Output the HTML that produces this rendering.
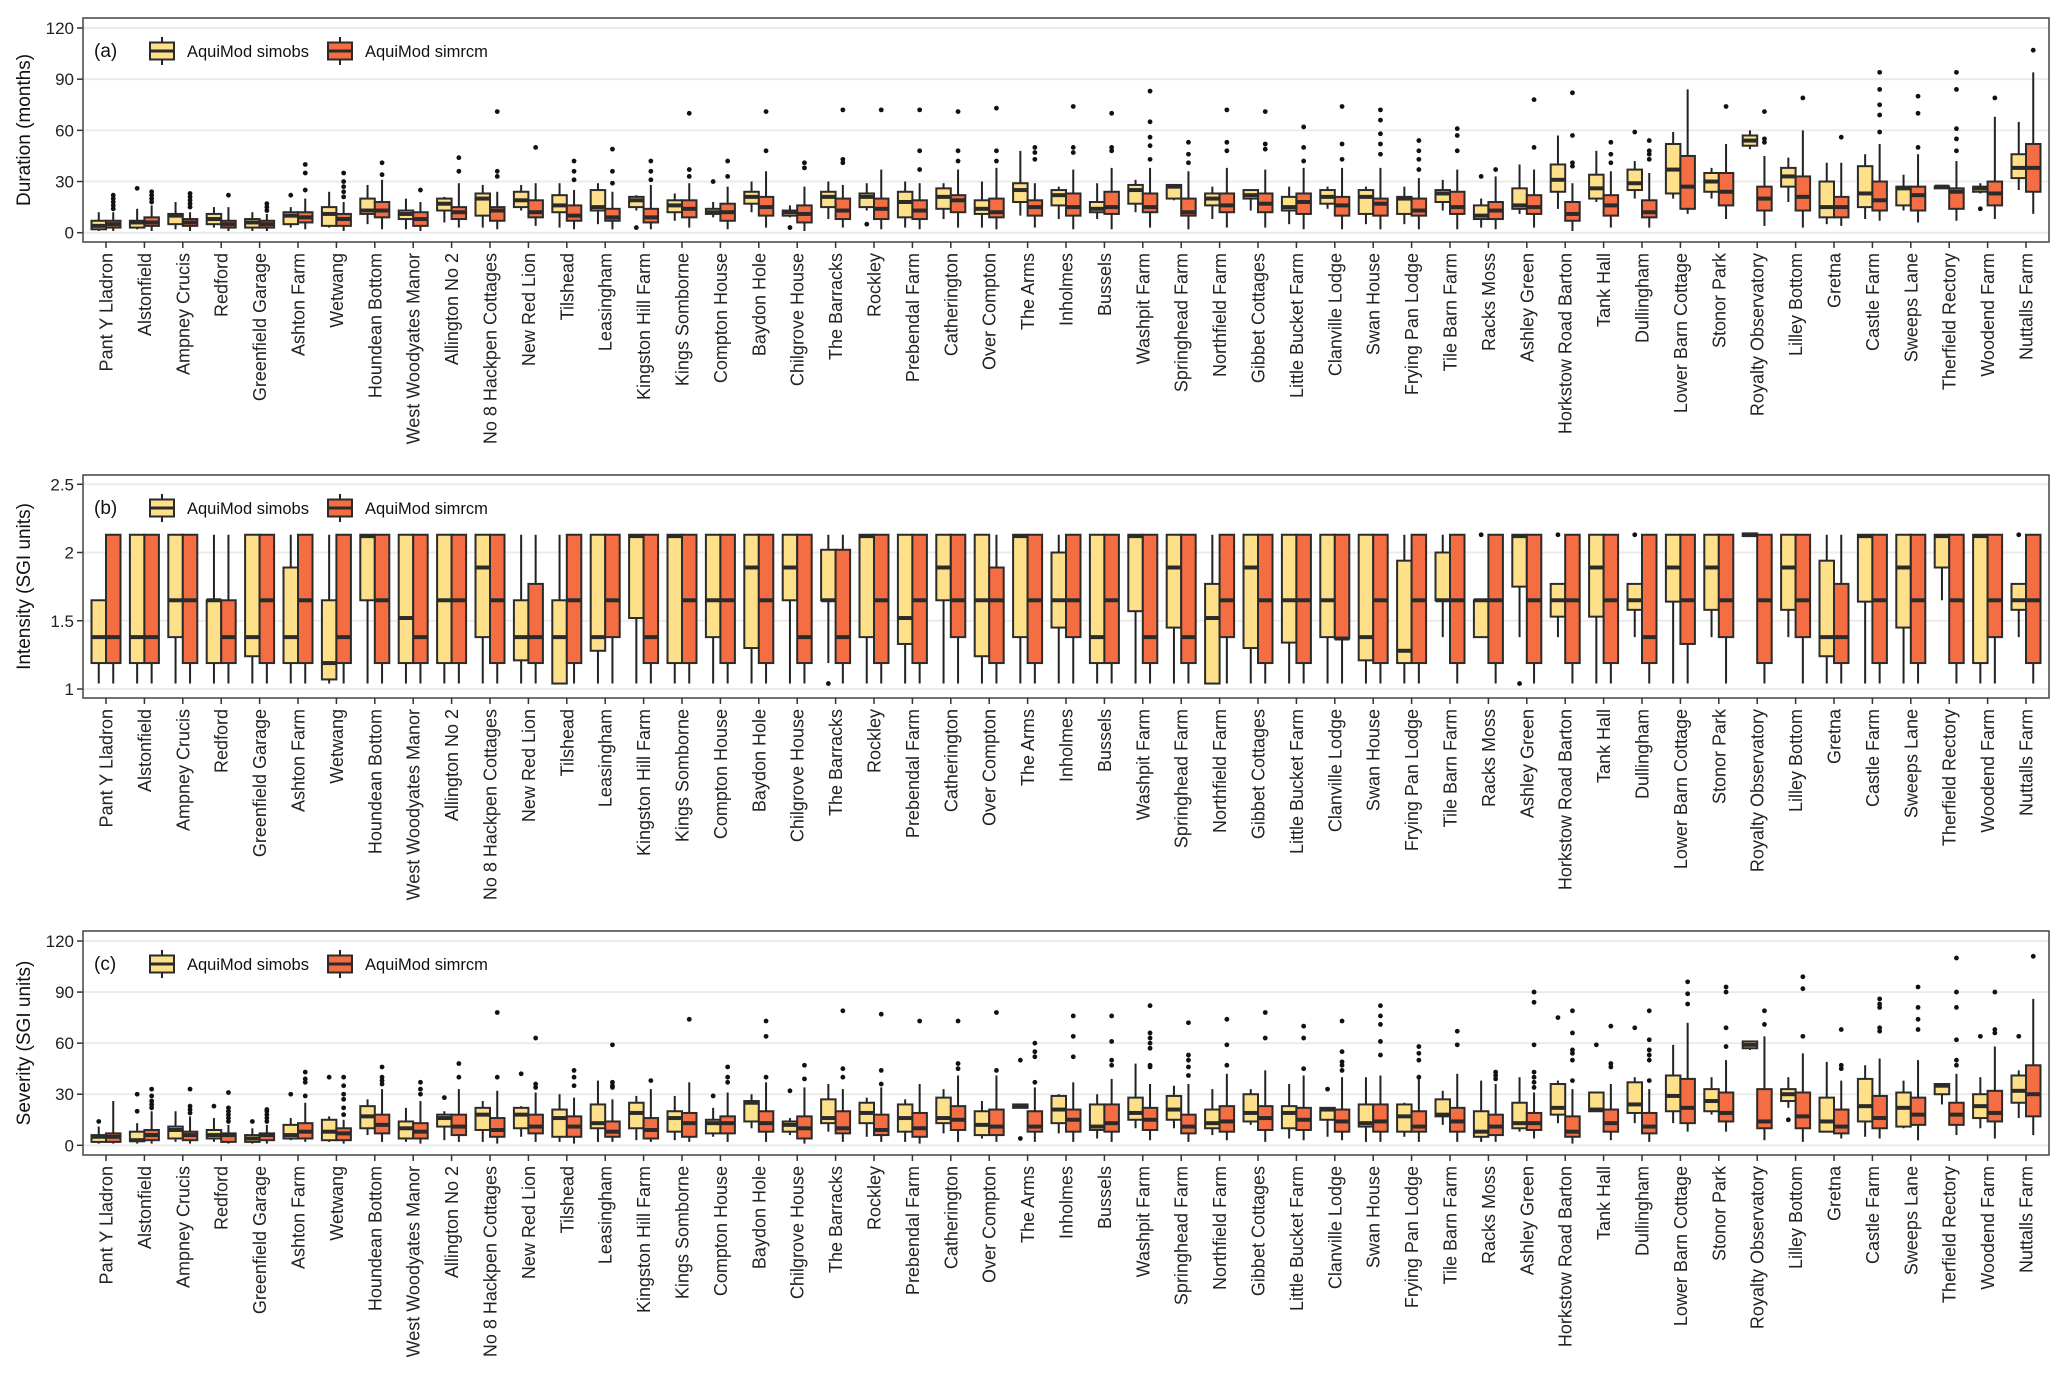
<!DOCTYPE html>
<html><head><meta charset="utf-8"><style>
body{margin:0;background:#fff;}
svg{display:block;font-family:"Liberation Sans",Arial,sans-serif;}
</style></head><body>
<svg id="chart" width="2067" height="1383" viewBox="0 0 2067 1383" xmlns="http://www.w3.org/2000/svg"></svg>
<script>
const sites = ["Pant Y Lladron","Alstonfield","Ampney Crucis","Redford","Greenfield Garage","Ashton Farm","Wetwang","Houndean Bottom","West Woodyates Manor","Allington No 2","No 8 Hackpen Cottages","New Red Lion","Tilshead","Leasingham","Kingston Hill Farm","Kings Somborne","Compton House","Baydon Hole","Chilgrove House","The Barracks","Rockley","Prebendal Farm","Catherington","Over Compton","The Arms","Inholmes","Bussels","Washpit Farm","Springhead Farm","Northfield Farm","Gibbet Cottages","Little Bucket Farm","Clanville Lodge","Swan House","Frying Pan Lodge","Tile Barn Farm","Racks Moss","Ashley Green","Horkstow Road Barton","Tank Hall","Dullingham","Lower Barn Cottage","Stonor Park","Royalty Observatory","Lilley Bottom","Gretna","Castle Farm","Sweeps Lane","Therfield Rectory","Woodend Farm","Nuttalls Farm"];
const seriesNames = ["AquiMod simobs","AquiMod simrcm"];
// Panel (a) Duration
const aTicks=[0,30,60,90,120];
const aYq1=[2,3,5,5,3,5,4,11,8,13,10,15,12,13,15,12,11,17,10,15,15,9,14,11,18,16,12,17,20,16,20,13,17,11,11,18,8,14,24,20,25,23,24,51,27,9,15,16,26,24,32];
const aYmed=[4,6,10,8,6,10,11,13,11,17,20,19,16,15,19,16,12,21,12,21,21,18,21,14,25,22,14,25,27,20,22,15,21,21,20,23,10,16,31,26,29,37,30,54,33,15,23,26,27,26,38];
const aYq3=[7,7,11,11,8,12,15,20,13,20,23,24,22,25,21,19,14,24,13,24,23,24,26,19,29,25,18,28,28,23,25,21,25,25,21,25,16,26,40,34,37,52,35,57,38,30,39,27,27,27,46];
const aYlo=[1,2,2,3,1,3,3,5,2,6,3,13,3,5,13,7,9,12,9,8,13,3,8,3,10,8,8,12,19,8,13,5,14,5,5,13,3,11,14,18,20,20,20,49,18,5,8,13,26,23,25];
const aYhi=[12,14,18,15,12,15,24,28,20,21,28,28,29,29,22,23,18,30,16,30,29,30,29,30,48,27,29,31,28,27,25,27,27,27,27,31,20,40,57,48,42,59,38,60,44,41,46,34,27,29,65];
const aYout=[[],[26],[],[],[],[22],[],[],[],[],[],[],[],[],[3],[],[30],[],[3],[],[5],[],[],[],[],[],[],[],[],[],[],[],[],[],[],[],[33],[],[],[],[59],[],[],[],[],[],[],[],[],[14],[]];
const aOq1=[3,4,4,3,3,6,4,9,4,8,7,9,7,7,6,9,7,10,6,8,8,8,12,9,10,10,11,12,10,12,12,11,10,10,10,11,8,11,7,10,9,14,16,13,13,9,13,13,14,16,24];
const aOmed=[5,6,6,5,5,9,8,13,8,12,13,12,10,9,9,14,12,15,11,13,14,13,19,12,15,15,15,15,12,16,17,18,16,17,13,15,13,15,11,16,12,27,24,20,21,15,19,22,24,23,38];
const aOq3=[7,9,8,7,7,12,11,18,12,15,15,19,16,14,14,19,17,21,16,20,20,19,22,20,19,23,24,23,20,23,23,23,21,20,20,24,18,22,18,22,19,45,35,27,33,21,30,27,26,30,52];
const aOlo=[1,1,1,1,1,2,1,2,1,3,2,4,2,2,2,3,2,3,1,3,2,2,3,2,3,2,2,3,2,3,3,2,2,2,2,2,2,3,1,3,3,11,8,4,3,4,7,6,7,8,11];
const aOhi=[12,16,12,15,11,20,18,31,18,29,24,29,25,24,28,29,27,36,27,28,37,29,37,38,29,37,38,38,36,38,37,38,38,38,32,37,33,37,29,36,35,84,52,45,60,41,52,46,42,68,94];
const aOout=[[14,16,18,20,22],[18,20,22,24],[15,17,19,21,23],[22],[13,15,17],[25,35,40],[21,24,27,30,35],[34,41],[25],[36,44],[33,36,71],[50],[31,36,42],[29,36,49],[31,36,42],[33,37,70],[33,42],[48,71],[38,41],[41,43,72],[72],[37,48,72],[42,48,71],[42,48,73],[43,47,50],[47,50,74],[48,50,70],[43,51,56,65,83],[41,46,53],[48,53,72],[49,52,71],[42,50,62],[43,52,74],[46,52,58,66,72],[37,43,48,54],[48,57,61],[37],[50,78],[39,41,57,82],[41,46,53],[43,46,48,54],[],[74],[53,55,71],[79],[56],[59,69,75,84,94],[50,70,80],[48,55,61,84,94],[79],[107]];
// Panel (b) Intensity
const bTicks=[1,1.5,2,2.5];
const bTickLabels=["1","1.5","2","2.5"];
const bYq1=[1.19,1.19,1.38,1.19,1.24,1.19,1.07,1.65,1.19,1.19,1.38,1.21,1.04,1.28,1.52,1.19,1.38,1.30,1.65,1.65,1.38,1.33,1.65,1.24,1.38,1.45,1.19,1.57,1.45,1.04,1.30,1.34,1.38,1.21,1.19,1.65,1.38,1.75,1.53,1.53,1.58,1.64,1.58,2.12,1.58,1.24,1.64,1.45,1.89,1.19,1.58];
const bYmed=[1.38,1.38,1.65,1.65,1.38,1.38,1.19,2.12,1.52,1.65,1.89,1.38,1.38,1.38,2.12,2.12,1.65,1.89,1.89,1.65,2.12,1.52,1.89,1.65,2.12,1.65,1.38,2.12,1.89,1.52,1.89,1.65,1.65,1.38,1.28,1.65,1.65,2.12,1.65,1.89,1.65,1.89,1.89,2.13,1.89,1.38,2.12,1.89,2.12,2.12,1.65];
const bYq3=[1.65,2.13,2.13,1.65,2.13,1.89,1.65,2.13,2.13,2.13,2.13,1.65,1.65,2.13,2.13,2.13,2.13,2.13,2.13,2.02,2.13,2.13,2.13,2.13,2.13,2.0,2.13,2.13,2.13,1.77,2.13,2.13,2.13,2.13,1.94,2.0,1.65,2.13,1.77,2.13,1.77,2.13,2.13,2.14,2.13,1.94,2.13,2.13,2.13,2.13,1.77];
const bYlo=[1.04,1.04,1.04,1.04,1.04,1.04,1.04,1.04,1.04,1.04,1.04,1.04,1.04,1.04,1.04,1.04,1.04,1.04,1.04,1.19,1.04,1.04,1.04,1.04,1.04,1.04,1.04,1.04,1.04,1.04,1.04,1.04,1.04,1.04,1.04,1.38,1.38,1.38,1.38,1.04,1.38,1.04,1.38,2.12,1.38,1.04,1.04,1.04,1.65,1.04,1.38];
const bYhi=[1.65,2.13,2.13,2.13,2.13,2.13,2.13,2.13,2.13,2.13,2.13,2.13,2.13,2.13,2.13,2.13,2.13,2.13,2.13,2.13,2.13,2.13,2.13,2.13,2.13,2.13,2.13,2.13,2.13,2.13,2.13,2.13,2.13,2.13,2.13,2.13,1.65,2.13,1.77,2.13,1.77,2.13,2.13,2.14,2.13,2.13,2.13,2.13,2.13,2.13,1.77];
const bYout=[[],[],[],[],[],[],[],[],[],[],[],[],[],[],[],[],[],[],[],[1.04],[],[],[],[],[],[],[],[],[],[],[],[],[],[],[],[],[2.13],[1.04],[2.13],[],[2.13],[],[],[],[],[],[],[],[],[],[2.13]];
const bOq1=[1.19,1.19,1.19,1.19,1.19,1.19,1.19,1.19,1.19,1.19,1.19,1.19,1.19,1.38,1.19,1.19,1.19,1.19,1.19,1.19,1.19,1.19,1.38,1.19,1.19,1.38,1.19,1.19,1.19,1.38,1.19,1.19,1.37,1.19,1.19,1.19,1.19,1.19,1.19,1.19,1.19,1.33,1.38,1.19,1.38,1.19,1.19,1.19,1.19,1.38,1.19];
const bOmed=[1.38,1.38,1.65,1.38,1.65,1.65,1.38,1.65,1.38,1.65,1.65,1.38,1.65,1.65,1.38,1.65,1.65,1.65,1.38,1.38,1.65,1.65,1.65,1.65,1.65,1.65,1.65,1.38,1.38,1.65,1.65,1.65,1.37,1.65,1.65,1.65,1.65,1.65,1.65,1.65,1.38,1.65,1.65,1.65,1.65,1.38,1.65,1.65,1.65,1.65,1.65];
const bOq3=[2.13,2.13,2.13,1.65,2.13,2.13,2.13,2.13,2.13,2.13,2.13,1.77,2.13,2.13,2.13,2.13,2.13,2.13,2.13,2.02,2.13,2.13,2.13,1.89,2.13,2.13,2.13,2.13,2.13,2.13,2.13,2.13,2.13,2.13,2.13,2.13,2.13,2.13,2.13,2.13,2.13,2.13,2.13,2.13,2.13,1.77,2.13,2.13,2.13,2.13,2.13];
const bOlo=[1.04,1.04,1.04,1.04,1.04,1.04,1.04,1.04,1.04,1.04,1.04,1.04,1.04,1.04,1.04,1.04,1.04,1.04,1.04,1.04,1.04,1.04,1.04,1.04,1.04,1.04,1.04,1.04,1.04,1.04,1.04,1.04,1.04,1.04,1.04,1.04,1.04,1.04,1.04,1.04,1.04,1.04,1.04,1.04,1.04,1.04,1.04,1.04,1.04,1.04,1.04];
const bOhi=[2.13,2.13,2.13,2.13,2.13,2.13,2.13,2.13,2.13,2.13,2.13,2.13,2.13,2.13,2.13,2.13,2.13,2.13,2.13,2.13,2.13,2.13,2.13,2.13,2.13,2.13,2.13,2.13,2.13,2.13,2.13,2.13,2.13,2.13,2.13,2.13,2.13,2.13,2.13,2.13,2.13,2.13,2.13,2.13,2.13,2.13,2.13,2.13,2.13,2.13,2.13];
const bOout=sites.map(()=>[]);
// Panel (c) Severity
const cTicks=[0,30,60,90,120];
const cYq1=[2,2.4,4,4,2,4,3,10,4,11,9,10,5,10,10,8,7,14,8,13,13,8,13,6,22,13,9,15,15,10,14,10,15,11,8,17,5,10,18,20,19,20,20,57,26,8,14,11,30,16,25];
const cYmed=[5,3,9,6,4,6,8,17,10,16,18,18,16,13,19,16,13,25,12,16,19,16,16,12,23,21,11,19,21,13,19,19,21,13,17,18,8,13,22,21,24,29,26,59,30,14,23,22,35,23,32];
const cYq3=[6,8,11,9,6,12,15,23,14,18,22,22,21,24,25,20,15,26,14,27,25,24,28,20,24,29,24,28,29,21,30,23,22,24,24,27,20,25,36,31,37,41,33,61,33,28,39,31,36,30,41];
const cYlo=[1,1,2,2,1,3,2,6,2,3,2,5,2,2,3,3,5,10,6,8,5,2,7,4,22,7,4,10,10,6,12,4,5,2,5,12,2,8,13,20,13,13,18,56,22,8,5,10,24,10,16];
const cYhi=[11,13,20,16,10,16,17,27,22,20,26,23,30,38,29,29,22,30,16,36,28,27,33,26,24,30,30,48,35,33,33,36,22,40,25,32,38,40,38,31,40,59,40,61,40,49,47,38,36,40,44];
const cYout=[[14],[20,30],[],[23],[14],[30],[40],[],[],[28],[],[42],[],[],[],[],[29],[],[32],[],[],[],[],[],[50,4],[],[],[],[],[],[],[],[33],[],[],[],[],[],[75],[59],[69],[],[],[],[15],[],[],[],[],[64],[64]];
const cOq1=[2,3,3,2,3,4,3,7,4,6,5,7,5,5,4,5,7,8,4,7,6,5,9,6,8,8,8,9,7,8,9,9,8,8,8,8,6,9,5,8,7,13,14,10,10,7,10,12,12,14,17];
const cOmed=[5,6,6,6,6,8,7,12,8,11,9,11,11,8,9,13,13,13,10,10,9,10,15,11,11,15,13,15,11,14,16,15,14,14,11,14,11,13,8,13,11,22,19,14,17,11,16,18,18,19,30];
const cOq3=[7,9,8,7,7,13,10,18,13,18,16,18,17,14,16,19,17,20,17,20,18,19,23,21,20,21,24,22,18,23,23,22,21,24,20,22,18,19,17,21,19,39,31,33,31,21,29,28,25,32,47];
const cOlo=[1,1,1,1,1,2,1,2,1,2,1,2,1,2,2,2,2,2,1,2,2,1,2,2,2,2,2,3,2,3,2,3,3,2,2,2,2,4,1,3,2,8,8,3,2,4,4,3,6,4,6];
const cOhi=[26,20,17,12,12,25,15,33,26,33,32,31,28,27,33,37,31,37,34,33,34,36,41,41,34,37,39,36,36,42,44,41,40,41,39,42,36,31,33,36,33,72,50,64,54,38,51,50,42,58,86];
const cOout=[[],[22,24,26,29,33],[19,21,23,33],[14,16,18,20,22,31],[14,16,18,20,21],[29,37,39,43],[18,22,27,30,35,40],[36,38,40,46],[30,33,37],[40,48],[40,78],[34,36,63],[35,40,44],[34,35,37,59],[38],[74],[37,40,46],[40,64,73],[39,47],[40,45,79],[36,44,77],[73],[45,48,73],[44,78],[37,52,55,60],[52,64,76],[47,50,61,76],[46,47,57,60,63,66,82],[41,46,50,53,72],[47,59,74],[63,78],[45,63,70],[44,47,49,55,73],[53,61,71,76,82],[40,50,54,58],[59,67],[39,41,43],[34,37,40,43,59,84,90],[38,50,54,56,66,79],[46,48,70],[38,50,53,56,62,79],[83,89,96],[58,69,90,93],[71,79],[64,92,99],[45,47,68],[67,69,81,83,86],[68,74,81,93],[47,50,62,81,90,110],[66,68,90],[111]];

const NS="http://www.w3.org/2000/svg";
const svg=document.getElementById('chart');
const COL=["#FEE08B","#F46D43"];
const X0=106, DX=38.4, LEFT=83, RIGHT=2049, BW=14.5;
function xPos(i){return X0+i*DX;}
function mk(tag,attrs,parent){const e=document.createElementNS(NS,tag);for(const k in attrs)e.setAttribute(k,attrs[k]);(parent||svg).appendChild(e);return e;}

const panels=[
 {key:'a',label:'(a)',title:'Duration (months)',top:18,bot:242,v0:0,p0:232.7,pv:1.7058,ticks:aTicks,tickLabels:aTicks.map(String),labTop:253,
  ser:[[aYlo,aYq1,aYmed,aYq3,aYhi,aYout],[aOlo,aOq1,aOmed,aOq3,aOhi,aOout]]},
 {key:'b',label:'(b)',title:'Intensity (SGI units)',top:475,bot:698,v0:1,p0:689,pv:136.5,ticks:bTicks,tickLabels:bTickLabels,labTop:709,
  ser:[[bYlo,bYq1,bYmed,bYq3,bYhi,bYout],[bOlo,bOq1,bOmed,bOq3,bOhi,bOout]]},
 {key:'c',label:'(c)',title:'Severity (SGI units)',top:931,bot:1155,v0:0,p0:1145.3,pv:1.7025,ticks:cTicks,tickLabels:cTicks.map(String),labTop:1166,
  ser:[[cYlo,cYq1,cYmed,cYq3,cYhi,cYout],[cOlo,cOq1,cOmed,cOq3,cOhi,cOout]]}
];

panels.forEach(p=>{
  const y=v=>p.p0-(v-p.v0)*p.pv;
  const g=mk('g',{});
  
  
  // grid
  p.ticks.forEach((t,k)=>{
    const gl=mk('line',{x1:LEFT,x2:RIGHT,y1:y(t),y2:y(t),stroke:'#EBEBEB','stroke-width':2},g);
    
    
    const tm=mk('line',{x1:LEFT-6,x2:LEFT,y1:y(t),y2:y(t),stroke:'#333','stroke-width':1.5},g);
    
    
    const tl=mk('text',{x:LEFT-9,y:y(t)+6,'text-anchor':'end','font-size':17,fill:'#222'},g);
    tl.textContent=p.tickLabels[k];
    
    
  });
  // axis title
  const cy=(p.top+p.bot)/2;
  const at=mk('text',{x:0,y:0,transform:`translate(30,${cy}) rotate(-90)`,'text-anchor':'middle','font-size':19,fill:'#111'},g);
  at.textContent=p.title;
  
  
  // boxes
  p.ser.forEach((s,si)=>{
    const [lo,q1,md,q3,hi,out]=s;
    sites.forEach((nm,i)=>{
      const cx=xPos(i)+(si===0?-BW/2:BW/2);
      const bg=mk('g',{},g);
      
      
      mk('line',{x1:cx,x2:cx,y1:y(lo[i]),y2:y(hi[i]),stroke:'#222','stroke-width':2},bg);
      const yt=y(q3[i]), yb=y(q1[i]);
      mk('rect',{x:cx-BW/2,y:yt,width:BW,height:Math.max(1,yb-yt),fill:COL[si],stroke:'#2b2b2b','stroke-width':2},bg);
      mk('line',{x1:cx-BW/2,x2:cx+BW/2,y1:y(md[i]),y2:y(md[i]),stroke:'#2b2b2b','stroke-width':4},bg);
      out[i].forEach(o=>{
        const d=mk('circle',{cx:cx,cy:y(o),r:2.4,fill:'#111'},bg);
        
        
      });
    });
  });
  // frame
  const fr=mk('rect',{x:LEFT,y:p.top,width:RIGHT-LEFT,height:p.bot-p.top,fill:'none',stroke:'#444','stroke-width':1.5},g);
  
  
  // x ticks and labels
  sites.forEach((nm,i)=>{
    const x=xPos(i);
    const tm=mk('line',{x1:x,x2:x,y1:p.bot,y2:p.bot+6,stroke:'#333','stroke-width':1.5},g);
    
    
    const t=mk('text',{x:0,y:0,transform:`translate(${x+6.5},${p.labTop}) rotate(-90)`,'text-anchor':'end','font-size':18,fill:'#222'},g);
    t.textContent=nm;
    
    
  });
  // panel letter and legend
  const ly=p.top+33;
  const pl=mk('text',{x:LEFT+11,y:ly+6,'font-size':19,fill:'#111'},g);
  pl.textContent=p.label;
  
  
  const lg=mk('g',{},g);
  
  
  const kx=[162,340], tx=[187,365];
  seriesNames.forEach((sn,si)=>{
    const e=mk('g',{},lg);
    
    
    mk('line',{x1:kx[si],x2:kx[si],y1:ly-14,y2:ly+14,stroke:'#222','stroke-width':2},e);
    mk('rect',{x:kx[si]-12,y:ly-8.5,width:24,height:17,fill:COL[si],stroke:'#2b2b2b','stroke-width':2},e);
    mk('line',{x1:kx[si]-12,x2:kx[si]+12,y1:ly,y2:ly,stroke:'#2b2b2b','stroke-width':3},e);
    const t=mk('text',{x:tx[si],y:ly+6,'font-size':16.5,fill:'#111'},e);
    t.textContent=sn;
  });
});
</script>
</body></html>
